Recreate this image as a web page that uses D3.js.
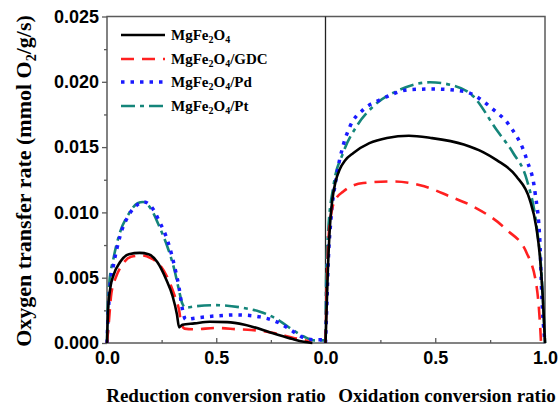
<!DOCTYPE html>
<html><head><meta charset="utf-8">
<script src="https://cdn.jsdelivr.net/npm/d3@7"></script>
<style>body{margin:0;background:#fff}svg{display:block}</style>
</head><body>
<svg id="c" width="559" height="413"></svg>
<script>
// ---- data ----
const seriesNames = ["MgFe2O4", "MgFe2O4/GDC", "MgFe2O4/Pd", "MgFe2O4/Pt"];
const yTicks = [0, 0.005, 0.010, 0.015, 0.020, 0.025];
const leftXTicks = [0, 0.5];
const rightXTicks = [0, 0.5, 1.0];
const xTitles = ["Reduction conversion ratio", "Oxidation conversion ratio"];

// Reduction panel [ratio, rate]
const redMg = [[0,0],[0.005,0.0025],[0.015,0.0042],[0.03,0.0052],[0.06,0.0062],[0.1,0.0068],[0.15,0.0069],[0.19,0.0068],[0.23,0.0062],[0.27,0.0049],[0.3,0.0036],[0.32,0.0022],[0.33,0.0012],[0.345,0.0014],[0.4,0.0015],[0.47,0.00163],[0.55,0.0016],[0.63,0.0014],[0.76,0.00074],[0.85,0.0003],[0.9,0.0001],[0.94,0]];
const redGDC = [[0,0],[0.008,0.0015],[0.02,0.0038],[0.04,0.005],[0.07,0.006],[0.11,0.0066],[0.16,0.0067],[0.2,0.0065],[0.24,0.006],[0.28,0.0049],[0.31,0.0036],[0.33,0.0025],[0.34,0.0015],[0.355,0.0011],[0.4,0.00105],[0.5,0.00115],[0.6,0.00105],[0.66,0.001],[0.77,0.00075],[0.85,0.0004],[0.92,0.00012],[0.935,0]];
const redPd = [[0,0],[0.005,0.002],[0.015,0.0045],[0.03,0.006],[0.06,0.0082],[0.1,0.0098],[0.14,0.0106],[0.17,0.0108],[0.2,0.0105],[0.24,0.0093],[0.28,0.0077],[0.31,0.0058],[0.33,0.0042],[0.345,0.0026],[0.36,0.0018],[0.4,0.0019],[0.48,0.00205],[0.6,0.00215],[0.7,0.002],[0.78,0.0016],[0.85,0.0009],[0.9,0.0004],[0.95,0.00025],[1.0,0.00025]];
const redPt = [[0,0],[0.003,0.0025],[0.01,0.0045],[0.03,0.0065],[0.06,0.0085],[0.1,0.0099],[0.14,0.0107],[0.165,0.0108],[0.2,0.0103],[0.24,0.0089],[0.28,0.0072],[0.31,0.0055],[0.33,0.004],[0.345,0.003],[0.36,0.0027],[0.4,0.0028],[0.5,0.0029],[0.62,0.0027],[0.7,0.0024],[0.79,0.0017],[0.85,0.001],[0.9,0.0005],[0.95,0.0002],[1.0,0.0002]];

// Oxidation panel [ratio, rate]
const oxMg = [[0,0],[0.004,0.002],[0.01,0.0052],[0.02,0.0089],[0.03,0.0108],[0.045,0.0123],[0.065,0.0133],[0.09,0.014],[0.127,0.01455],[0.2,0.0153],[0.28,0.0157],[0.38,0.01587],[0.48,0.0157],[0.63,0.0152],[0.72,0.0146],[0.78,0.014],[0.87,0.01275],[0.93,0.011],[0.96,0.0089],[0.978,0.0064],[0.993,0.0025],[1,0]];
const oxGDC = [[0,0],[0.006,0.0043],[0.013,0.0078],[0.025,0.0098],[0.043,0.0109],[0.081,0.0116],[0.172,0.01225],[0.31,0.01237],[0.45,0.012],[0.567,0.01122],[0.673,0.01045],[0.825,0.00867],[0.917,0.00688],[0.962,0.0043],[0.978,0.00125],[0.982,0]];
const oxPd = [[0,0],[0.005,0.0023],[0.013,0.0064],[0.025,0.0095],[0.05,0.01275],[0.08,0.0151],[0.112,0.0166],[0.172,0.01787],[0.25,0.01863],[0.385,0.0194],[0.49,0.01945],[0.628,0.01927],[0.765,0.01787],[0.84,0.0166],[0.917,0.01403],[0.955,0.01148],[0.977,0.00765],[0.985,0.0038],[1,0]];
const oxPt = [[0,0],[0.003,0.005],[0.012,0.0085],[0.036,0.012],[0.08,0.01455],[0.142,0.0166],[0.218,0.01813],[0.34,0.0194],[0.476,0.01996],[0.567,0.01978],[0.673,0.01889],[0.78,0.0163],[0.855,0.01455],[0.917,0.0125],[0.962,0.0089],[0.985,0.0051],[1,0]];

// ---- styles ----
const colors = ["#000000", "#ff2020", "#1a1aff", "#14857a"];
const dashes = [null, "13,8", "3.5,6", "14,5,4,5"];
const widths = [2.6, 2.6, 3.5, 2.6];

const svg = d3.select("#c");
const L = 107, M = 325.5, R = 545, T = 16.5, B = 343;
const y = d3.scaleLinear().domain([0, 0.025]).range([B, T]);
const xL = d3.scaleLinear().domain([0, 1]).range([L, M]);
const xR = d3.scaleLinear().domain([0, 1]).range([M, R]);

// Frame
const frameCol = "#5a5a5a";
svg.append("rect").attr("x", L).attr("y", T).attr("width", R - L).attr("height", B - T)
  .attr("fill", "none").attr("stroke", frameCol).attr("stroke-width", 1.5);

// y axis
const yAxis = d3.axisLeft(y).tickValues(yTicks).tickFormat(d3.format(".3f")).tickSize(5).tickPadding(3);
const gy = svg.append("g").attr("transform", `translate(${L},0)`).call(yAxis);
gy.select(".domain").remove();
gy.selectAll(".tick line").attr("stroke", frameCol).attr("stroke-width", 1.3);
gy.selectAll("text").attr("font-family", "Liberation Sans, Arial, sans-serif").attr("font-weight", "bold").attr("font-size", 18).attr("fill", "#000");
const yMinor = d3.range(0.0025, 0.025, 0.005);
svg.append("g").attr("transform", `translate(${L},0)`).call(d3.axisLeft(y).tickValues(yMinor).tickFormat("").tickSize(3))
  .call(g => { g.select(".domain").remove(); g.selectAll("line").attr("stroke", frameCol).attr("stroke-width", 1.3); });

// x axes (ticks inward)
function xAxis(scale, ticks) {
  const g = svg.append("g").attr("transform", `translate(0,${B})`)
    .call(d3.axisBottom(scale).tickValues(ticks).tickFormat(d3.format(".1f")).tickSizeInner(-5).tickSizeOuter(0).tickPadding(8));
  g.select(".domain").remove();
  g.selectAll(".tick line").attr("stroke", frameCol).attr("stroke-width", 1.3);
  g.selectAll("text").attr("font-family", "Liberation Sans, Arial, sans-serif").attr("font-weight", "bold").attr("font-size", 18).attr("fill", "#000").attr("dy", "0.72em");
  const gm = svg.append("g").attr("transform", `translate(0,${B})`)
    .call(d3.axisBottom(scale).tickValues([0.25, 0.75]).tickFormat("").tickSizeInner(-3).tickSizeOuter(0));
  gm.select(".domain").remove();
  gm.selectAll("line").attr("stroke", frameCol).attr("stroke-width", 1.3);
}
xAxis(xL, leftXTicks);
xAxis(xR, rightXTicks);

// divider
svg.append("line").attr("x1", M).attr("x2", M).attr("y1", T).attr("y2", B).attr("stroke", "#222").attr("stroke-width", 1.3);

// curves
const reduction = [redMg, redGDC, redPd, redPt];
const oxidation = [oxMg, oxGDC, oxPd, oxPt];
function drawLines(scale, sets) {
  const line = d3.line().x(d => scale(d[0])).y(d => y(d[1])).curve(d3.curveMonotoneX);
  [3, 2, 1, 0].forEach(i => {
    svg.append("path").datum(sets[i]).attr("d", line).attr("fill", "none")
      .attr("stroke", colors[i]).attr("stroke-width", widths[i])
      .attr("stroke-dasharray", dashes[i]);
  });
}
drawLines(xL, reduction);
drawLines(xR, oxidation);

// legend
const legY = [35, 59, 82, 106];
const serif = "Liberation Serif, Times New Roman, serif";
seriesNames.forEach((name, i) => {
  svg.append("line").attr("x1", 121).attr("x2", 165).attr("y1", legY[i]).attr("y2", legY[i])
    .attr("stroke", colors[i]).attr("stroke-width", widths[i])
    .attr("stroke-dasharray", dashes[i]);
  const t = svg.append("text").attr("x", 171).attr("y", legY[i] + 5)
    .attr("font-family", serif).attr("font-weight", "bold").attr("font-size", 15);
  const rest = name.replace("MgFe2O4", "");
  t.append("tspan").text("MgFe");
  t.append("tspan").attr("font-size", 10).attr("dy", 3).text("2");
  t.append("tspan").attr("dy", -3).text("O");
  t.append("tspan").attr("font-size", 10).attr("dy", 3).text("4");
  t.append("tspan").attr("dy", -3).text(rest);
});

// axis titles
const yt = svg.append("text").attr("transform", "translate(31,181) rotate(-90)").attr("text-anchor", "middle")
  .attr("font-family", serif).attr("font-weight", "bold").attr("font-size", 22);
yt.append("tspan").text("Oxygen transfer rate (mmol O");
yt.append("tspan").attr("font-size", 14).attr("dy", 5).text("2");
yt.append("tspan").attr("dy", -5).text("/g/s)");

svg.append("text").attr("x", 216).attr("y", 402).attr("text-anchor", "middle")
  .attr("font-family", serif).attr("font-weight", "bold").attr("font-size", 19).text(xTitles[0]);
svg.append("text").attr("x", 447).attr("y", 402).attr("text-anchor", "middle")
  .attr("font-family", serif).attr("font-weight", "bold").attr("font-size", 19).text(xTitles[1]);
</script>
</body></html>
